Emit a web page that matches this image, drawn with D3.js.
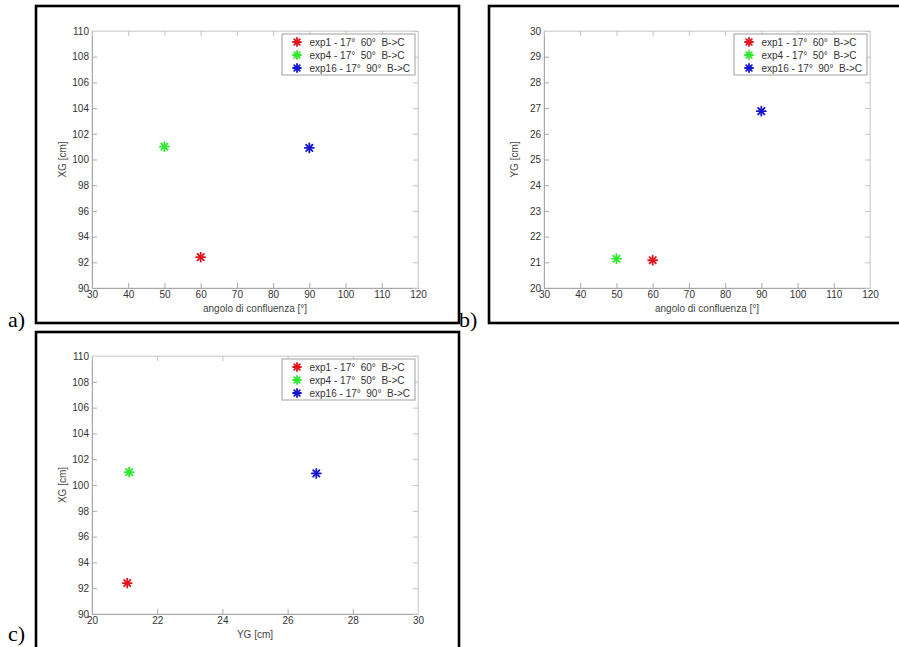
<!DOCTYPE html>
<html>
<head>
<meta charset="utf-8">
<script src="https://cdn.jsdelivr.net/npm/d3@7"></script>
<style>
  html, body { margin: 0; padding: 0; background: #fff; }
  svg { display: block; }
</style>
</head>
<body>
<svg id="chart" width="899" height="647"></svg>
<script>
// ---------- data ----------
const seriesNames = ["exp1 - 17°  60°  B->C", "exp4 - 17°  50°  B->C", "exp16 - 17°  90°  B->C"];
const seriesColors = ["#e4121c", "#2ee82e", "#1414d0"];
const angleValues = [60, 50, 90];
const xgValues = [92.4, 101.0, 100.9];
const ygValues = [21.08, 21.14, 26.88];
const angleTicks = [30, 40, 50, 60, 70, 80, 90, 100, 110, 120];
const xgTicks = [90, 92, 94, 96, 98, 100, 102, 104, 106, 108, 110];
const ygTicks = [20, 21, 22, 23, 24, 25, 26, 27, 28, 29, 30];
const ygTicksC = [20, 22, 24, 26, 28, 30];
const panelLetters = ["a)", "b)", "c)"];

const svg = d3.select("#chart");

function drawPanel(p) {
  // outer frame
  svg.append("rect")
    .attr("x", p.frame[0]).attr("y", p.frame[1])
    .attr("width", p.frame[2]).attr("height", p.frame[3])
    .attr("fill", "#fff").attr("stroke", "#000").attr("stroke-width", 2.6);

  const g = svg.append("g");
  const x = d3.scaleLinear().domain(p.xDomain).range([p.plot[0], p.plot[2]]);
  const y = d3.scaleLinear().domain(p.yDomain).range([p.plot[3], p.plot[1]]);
  const axisColor = "#a8a8a8";
  const tickLen = 5;

  // box (top/right faint)
  g.append("rect")
    .attr("x", p.plot[0]).attr("y", p.plot[1])
    .attr("width", p.plot[2] - p.plot[0]).attr("height", p.plot[3] - p.plot[1])
    .attr("fill", "none").attr("stroke", "#d8d8d8").attr("stroke-width", 1);

  // bottom axis (ticks inward)
  const xAxis = d3.axisBottom(x).tickValues(p.xTicks).tickSize(-tickLen).tickPadding(3).tickFormat(d3.format("d"));
  const gx = g.append("g").attr("transform", `translate(0,${p.plot[3]})`).call(xAxis);
  // left axis
  const yAxis = d3.axisLeft(y).tickValues(p.yTicks).tickSize(-tickLen).tickPadding(3).tickFormat(d3.format("d"));
  const gy = g.append("g").attr("transform", `translate(${p.plot[0]},0)`).call(yAxis);
  // top / right mirrored ticks
  const gt = g.append("g").attr("transform", `translate(0,${p.plot[1]})`)
    .call(d3.axisTop(x).tickValues(p.xTicks).tickSize(-tickLen).tickFormat(""));
  const gr = g.append("g").attr("transform", `translate(${p.plot[2]},0)`)
    .call(d3.axisRight(y).tickValues(p.yTicks).tickSize(-tickLen).tickFormat(""));

  [gx, gy].forEach(a => {
    a.select(".domain").attr("stroke", axisColor).attr("stroke-width", 1);
    a.selectAll(".tick line").attr("stroke", axisColor);
    a.selectAll(".tick text").attr("fill", "#333").attr("font-family", "Liberation Sans, Arial, sans-serif").attr("font-size", 10);
  });
  [gt, gr].forEach(a => {
    a.select(".domain").attr("stroke", "#d8d8d8");
    a.selectAll(".tick line").attr("stroke", "#c4c4c4");
  });

  // axis labels
  g.append("text")
    .attr("x", (p.plot[0] + p.plot[2]) / 2).attr("y", p.plot[3] + 24)
    .attr("text-anchor", "middle").attr("font-family", "Liberation Sans, Arial, sans-serif")
    .attr("font-size", 10).attr("fill", "#444").text(p.xLabel);
  g.append("text")
    .attr("transform", `translate(${p.plot[0] - 26},${(p.plot[1] + p.plot[3]) / 2}) rotate(-90)`)
    .attr("text-anchor", "middle").attr("font-family", "Liberation Sans, Arial, sans-serif")
    .attr("font-size", 10).attr("fill", "#444").text(p.yLabel);

  // markers (asterisks)
  const star = (sel, cx, cy, r, color) => {
    const s = sel.append("g").attr("transform", `translate(${cx},${cy})`)
      .attr("stroke", color).attr("stroke-width", 1.8).attr("stroke-linecap", "round");
    [0, 45, 90, 135].forEach(a => {
      const rad = a * Math.PI / 180;
      s.append("line")
        .attr("x1", -r * Math.cos(rad)).attr("y1", -r * Math.sin(rad))
        .attr("x2", r * Math.cos(rad)).attr("y2", r * Math.sin(rad));
    });
  };
  p.xVals.forEach((xv, i) => star(g, x(xv), y(p.yVals[i]), 4.5, seriesColors[i]));

  // legend
  const lx = p.plot[2] - 136, ly = p.plot[1] + 3;
  const lg = g.append("g");
  lg.append("rect").attr("x", lx).attr("y", ly).attr("width", 133).attr("height", 41)
    .attr("fill", "#fff").attr("stroke", "#a0a0a0").attr("stroke-width", 1);
  seriesNames.forEach((name, i) => {
    const ry = ly + 8 + i * 13;
    star(lg, lx + 15, ry, 4, seriesColors[i]);
    lg.append("text").attr("x", lx + 27.5).attr("y", ry + 3.6)
      .attr("font-family", "Liberation Sans, Arial, sans-serif").attr("font-size", 10)
      .attr("fill", "#333").attr("xml:space", "preserve").style("white-space", "pre").text(name);
  });

  // panel letter
  svg.append("text").attr("x", p.letter[0]).attr("y", p.letter[1])
    .attr("font-family", "Liberation Serif, Times New Roman, serif").attr("font-size", 22)
    .attr("fill", "#000").text(p.letterText);
}

drawPanel({
  frame: [36, 6, 423, 317], plot: [92, 31, 418, 288],
  xDomain: [30, 120], yDomain: [90, 110], xTicks: angleTicks, yTicks: xgTicks,
  xVals: angleValues, yVals: xgValues,
  xLabel: "angolo di confluenza [°]", yLabel: "XG [cm]",
  letter: [8, 327], letterText: panelLetters[0]
});
drawPanel({
  frame: [489, 6, 420, 317], plot: [544, 31, 870, 288],
  xDomain: [30, 120], yDomain: [20, 30], xTicks: angleTicks, yTicks: ygTicks,
  xVals: angleValues, yVals: ygValues,
  xLabel: "angolo di confluenza [°]", yLabel: "YG [cm]",
  letter: [459, 327], letterText: panelLetters[1]
});
drawPanel({
  frame: [36, 332, 423, 330], plot: [92, 356, 418, 614],
  xDomain: [20, 30], yDomain: [90, 110], xTicks: ygTicksC, yTicks: xgTicks,
  xVals: ygValues, yVals: xgValues,
  xLabel: "YG [cm]", yLabel: "XG [cm]",
  letter: [8, 641], letterText: panelLetters[2]
});
</script>
</body>
</html>
